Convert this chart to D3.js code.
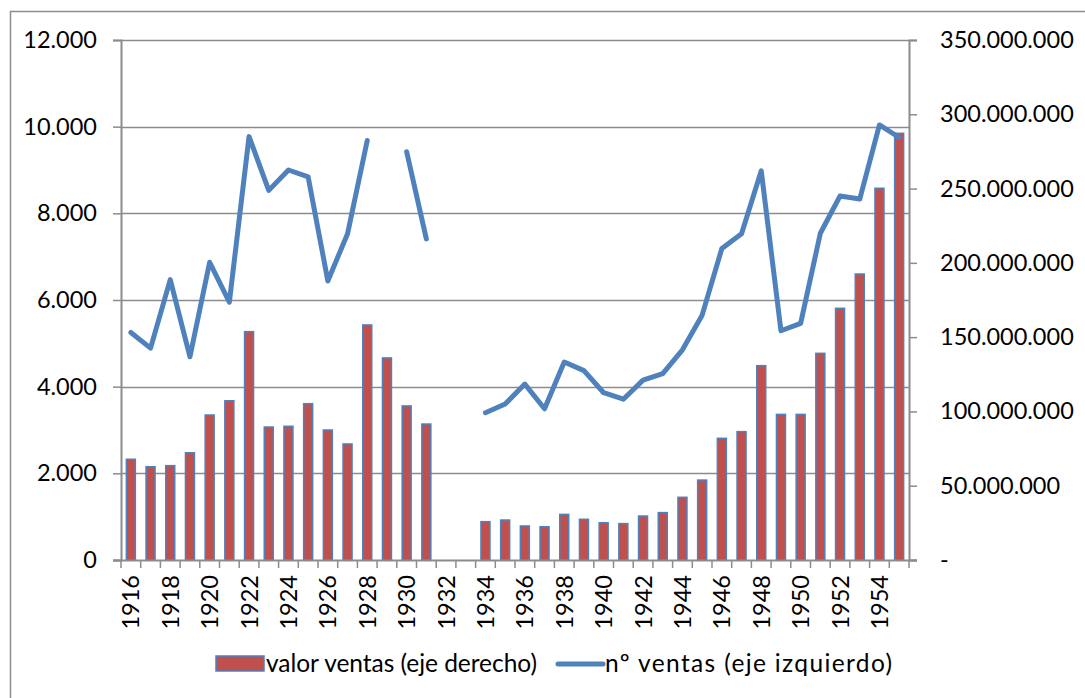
<!DOCTYPE html>
<html>
<head>
<meta charset="utf-8">
<script src="https://cdn.jsdelivr.net/npm/d3@7/dist/d3.min.js"></script>
<style>
  html, body { margin: 0; padding: 0; background: #fff; }
  svg text { font-family: Lato, "Open Sans", sans-serif; fill: #000; }
</style>
</head>
<body>
<svg id="chart" width="1085" height="698"></svg>
<script>
const years = d3.range(1916, 1956).map(String);
// valor ventas (right axis), pesetas
const valorVentas = [67.8e6, 62.8e6, 63.5e6, 72.2e6, 97.6e6, 107.2e6, 153.7e6, 89.5e6, 90.0e6, 105.2e6,
  87.5e6, 78.1e6, 158.2e6, 136.0e6, 103.7e6, 91.5e6, null, null, 25.8e6, 26.9e6,
  22.9e6, 22.4e6, 30.7e6, 27.4e6, 25.1e6, 24.5e6, 29.6e6, 31.9e6, 42.2e6, 53.8e6,
  81.9e6, 86.4e6, 130.8e6, 98.0e6, 98.0e6, 139.1e6, 169.4e6, 192.5e6, 250.2e6, 287.2e6];
// nº ventas (left axis)
const numVentas = [5250, 4890, 6470, 4690, 6870, 5950, 9770, 8530, 9000, 8840,
  6440, 7530, 9680, null, 9420, 7410, null, null, 3400, 3600,
  4060, 3490, 4570, 4370, 3860, 3710, 4150, 4300, 4850, 5650,
  7190, 7530, 8980, 5290, 5460, 7540, 8400, 8330, 10040, 9750];
const leftTicks = [0, 2000, 4000, 6000, 8000, 10000, 12000];
const rightTicks = [0, 50e6, 100e6, 150e6, 200e6, 250e6, 300e6, 350e6];
const xLabels = years.filter((d, i) => i % 2 === 0);
const seriesNames = ["valor ventas (eje derecho)", "nº ventas (eje izquierdo)"];

const W = 1085, H = 698;
const L = 121, R = 909, T = 40, B = 560;
const svg = d3.select("#chart");
const gridColor = "#8c8c8c";
const barFill = "#C0504D", blue = "#4F81BD";
const fs = "23.5px";

// outer frame (extends past right/bottom edges)
svg.append("rect").attr("x", 10.5).attr("y", 11.5).attr("width", 1100).attr("height", 720)
  .attr("fill", "none").attr("stroke", "#8c8c8c").attr("stroke-width", 1.5);

const x = d3.scaleBand().domain(years).range([L, R]).paddingInner(0).paddingOuter(0);
const yL = d3.scaleLinear().domain([0, 12000]).range([B, T]);
const yR = d3.scaleLinear().domain([0, 350e6]).range([B, T]);

const fmtDot = v => d3.format(",")(v).replace(/,/g, ".");

// gridlines
svg.append("g").selectAll("line").data(leftTicks.filter(d => d > 0)).join("line")
  .attr("x1", L).attr("x2", R).attr("y1", d => Math.round(yL(d)) + 0.5).attr("y2", d => Math.round(yL(d)) + 0.5)
  .attr("stroke", gridColor).attr("stroke-width", 1.5);

// left axis
const gL = svg.append("g").attr("transform", `translate(${L},0)`)
  .call(d3.axisLeft(yL).tickValues(leftTicks).tickFormat(fmtDot).tickSize(8).tickPadding(16));
gL.select(".domain").attr("stroke", gridColor).attr("stroke-width", 2);
gL.selectAll(".tick line").attr("stroke", gridColor).attr("stroke-width", 1.5);
gL.selectAll("text").style("font-size", fs).style("font-family", "Lato");

// right axis
const gR = svg.append("g").attr("transform", `translate(${R},0)`)
  .call(d3.axisRight(yR).tickValues(rightTicks).tickFormat(d => d === 0 ? "-" : fmtDot(d)).tickSize(8).tickPadding(23));
gR.select(".domain").attr("stroke", gridColor).attr("stroke-width", 2);
gR.selectAll(".tick line").attr("stroke", gridColor).attr("stroke-width", 1.5);
gR.selectAll("text").style("font-size", fs).style("font-family", "Lato");

// bars
const bw = 9;
svg.append("g").selectAll("rect").data(years.map((y, i) => ({ y, v: valorVentas[i] })).filter(d => d.v != null)).join("rect")
  .attr("x", d => x(d.y) + x.bandwidth() / 2 - bw / 2)
  .attr("y", d => yR(d.v))
  .attr("width", bw)
  .attr("height", d => B - yR(d.v))
  .attr("fill", barFill).attr("stroke", blue).attr("stroke-width", 1.5);

// x axis
const gX = svg.append("g").attr("transform", `translate(0,${B})`);
gX.append("line").attr("x1", L - 8).attr("x2", R + 8).attr("y1", 0.5).attr("y2", 0.5).attr("stroke", gridColor).attr("stroke-width", 2);
gX.selectAll("line.tk").data(d3.range(years.length + 1)).join("line").attr("class", "tk")
  .attr("x1", i => L + i * x.bandwidth()).attr("x2", i => L + i * x.bandwidth())
  .attr("y1", 0).attr("y2", 8).attr("stroke", gridColor).attr("stroke-width", 1.5);
gX.selectAll("text").data(xLabels).join("text")
  .attr("transform", d => `translate(${x(d) + x.bandwidth() / 2 + 8.5},15) rotate(-90)`)
  .attr("text-anchor", "end")
  .style("font-size", fs)
  .text(d => d);

// line
const line = d3.line().defined(d => d.v != null)
  .x(d => x(d.y) + x.bandwidth() / 2).y(d => yL(d.v));
svg.append("path").datum(years.map((y, i) => ({ y, v: numVentas[i] })))
  .attr("d", line).attr("fill", "none").attr("stroke", blue).attr("stroke-width", 5)
  .attr("stroke-linejoin", "round").attr("stroke-linecap", "round");

// legend
const lg = svg.append("g");
lg.append("rect").attr("x", 216).attr("y", 656).attr("width", 48).attr("height", 15)
  .attr("fill", barFill).attr("stroke", blue).attr("stroke-width", 1.5);
lg.append("text").attr("x", 266).attr("y", 672).style("font-size", "24.5px")
  .attr("textLength", 271).attr("lengthAdjust", "spacing").text(seriesNames[0]);
lg.append("line").attr("x1", 558).attr("x2", 603).attr("y1", 664).attr("y2", 664)
  .attr("stroke", blue).attr("stroke-width", 5).attr("stroke-linecap", "round");
lg.append("text").attr("x", 605).attr("y", 672).style("font-size", "24.5px")
  .attr("textLength", 287).attr("lengthAdjust", "spacing").text(seriesNames[1]);
</script>
</body>
</html>
